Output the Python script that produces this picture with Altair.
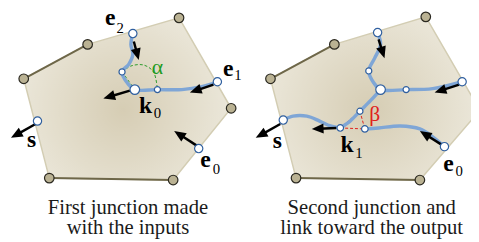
import math
import altair as alt
import pandas as pd

# ---------------- data (image pixel coordinates) ----------------
# polygon outlines
poly_left_x = [24, 89, 182, 235, 176, 50]
poly_left_y = [78, 43, 16, 108, 181, 179]
poly_right_x = [275, 340, 433, 488, 427, 301]
poly_right_y = [78, 43, 15, 110, 181, 179]

# dark edges (pairs)
dark_edges = [
    [(24, 78), (89, 43)], [(50, 179), (176, 181)],
    [(275, 78), (340, 43)], [(301, 179), (427, 181)],
]

# blue paths
blue_paths = [
    [(135, 32), (133, 43), (135, 53), (131, 63), (124, 71), (130, 83), (137, 89),
     (160, 89), (185, 89), (205, 86), (221, 81)],
    [(384, 31), (387, 43), (381, 57), (375, 70), (380, 82), (387, 89),
     (413, 89), (440, 88), (470, 81)],
    [(387, 89), (377, 100), (366, 111), (356, 121), (346, 128)],
    [(346, 128), (336, 126), (325, 121), (312, 116), (298, 116), (288, 120)],
    [(452, 147), (440, 137), (427, 129), (407, 126), (385, 128), (371, 129)],
]

# dashed angle markers
green_arc = [(124, 71), (133, 65), (146, 64), (156, 71), (160, 89)]
green_lines = [[(124, 71), (137, 89)], [(137, 89), (160, 89)]]
red_lines = [[(366, 111), (346, 128)], [(366, 111), (371, 129)], [(346, 128), (371, 129)]]

# arrows: start -> tip
arrows = [
    ((136, 40), (141, 59)), ((217, 84), (193, 92)), ((132, 90), (105, 98)),
    ((200, 146), (177, 131)), ((36, 124), (11, 138)),
    ((385, 38), (391, 57)), ((467, 84), (442, 92)), ((342, 128), (317, 129)),
    ((449, 145), (427, 131)), ((285, 124), (260, 138)),
]

# white nodes: x, y, diameter
node_x = [135, 124, 137, 160, 221, 202, 38, 384, 375, 387, 413, 470, 366, 346, 371, 452, 288]
node_y = [32, 71, 89, 89, 81, 149, 121, 31, 70, 89, 89, 81, 111, 128, 129, 147, 120]
node_d = [9.5, 7, 11, 7, 9.5, 9.5, 9.5, 9.5, 7, 11, 7, 9.5, 7, 7.5, 7.5, 9.5, 9.5]

# bold labels
lab_text = ["e", "e", "k", "s", "e", "s", "k", "e"]
lab_x = [112, 232, 148, 32, 209, 282, 353, 456]
lab_y = [23, 75, 113, 147, 168, 148, 152, 172]
sub_text = ["2", "1", "0", "0", "1", "0"]
sub_x = [122, 242, 160, 220, 365, 467]
sub_y = [31, 79, 118, 175, 159, 177]

greek_text = ["α", "β"]
greek_x = [160, 381]
greek_y = [73, 121]
greek_col = ["#1e9a1e", "#e0201c"]

cap_text = ["First junction made", "with the inputs",
            "Second junction and", "link toward the output"]
cap_x = [130, 130, 378, 378]
cap_y = [216, 236, 216, 236]

# ---------------- build tables ----------------
def rows_from_paths(paths):
    r = []
    for g, p in enumerate(paths):
        for i, (x, y) in enumerate(p):
            r.append({"g": g, "i": i, "x": x, "y": y})
    return pd.DataFrame(r)

poly_df = pd.DataFrame(
    [{"g": 0, "i": i, "x": x, "y": y} for i, (x, y) in enumerate(zip(poly_left_x + poly_left_x[:1], poly_left_y + poly_left_y[:1]))]
    + [{"g": 1, "i": i, "x": x, "y": y} for i, (x, y) in enumerate(zip(poly_right_x + poly_right_x[:1], poly_right_y + poly_right_y[:1]))]
)
vert_df = pd.DataFrame({"x": poly_left_x + poly_right_x, "y": poly_left_y + poly_right_y})

HEAD = 12.0
arrow_lines, arrow_heads = [], []
for g, ((sx, sy), (tx, ty)) in enumerate(arrows):
    dx, dy = tx - sx, ty - sy
    L = math.hypot(dx, dy)
    ux, uy = dx / L, dy / L
    arrow_lines += [{"g": g, "i": 0, "x": sx, "y": sy},
                    {"g": g, "i": 1, "x": tx - ux * HEAD * 0.6, "y": ty - uy * HEAD * 0.6}]
    ang = math.degrees(math.atan2(dx, -dy)) % 360
    arrow_heads.append({"x": tx - ux * HEAD / 2, "y": ty - uy * HEAD / 2, "ang": ang})
arrow_lines = pd.DataFrame(arrow_lines)
arrow_heads = pd.DataFrame(arrow_heads)

nodes = pd.DataFrame({"x": node_x, "y": node_y, "s": [math.pi * d * d / 4 for d in node_d]})

# plot area starts at page y = 16 (8px page margin + 8px top padding)
X = alt.Scale(domain=[8, 479], nice=False, zero=False)
Y = alt.Scale(domain=[16, 242], nice=False, zero=False, reverse=True)
ex = alt.X("x:Q", scale=X, axis=None)
ey = alt.Y("y:Q", scale=Y, axis=None)

grad = {"gradient": "radial", "x1": 0.48, "y1": 0.55, "r1": 0, "x2": 0.48, "y2": 0.55, "r2": 0.62,
        "stops": [{"offset": 0, "color": "#d6cdb4"}, {"offset": 1, "color": "#efece1"}]}

polys = alt.Chart(poly_df).mark_line(fill=grad, stroke="#d3cdb3", strokeWidth=1.5, clip=False).encode(
    x=ex, y=ey, detail="g:N", order="i:Q")

dark = alt.Chart(rows_from_paths(dark_edges)).mark_line(color="#6e6749", strokeWidth=2).encode(
    x=ex, y=ey, detail="g:N", order="i:Q")

garc = alt.Chart(rows_from_paths([green_arc])).mark_line(
    color="#2a9a2a", strokeWidth=1, strokeDash=[3, 2], interpolate="catmull-rom").encode(
    x=ex, y=ey, detail="g:N", order="i:Q")
glines = alt.Chart(rows_from_paths(green_lines)).mark_line(
    color="#2a9a2a", strokeWidth=1, strokeDash=[3, 2]).encode(x=ex, y=ey, detail="g:N", order="i:Q")
rlines = alt.Chart(rows_from_paths(red_lines)).mark_line(
    color="#e0201c", strokeWidth=1, strokeDash=[3, 2]).encode(x=ex, y=ey, detail="g:N", order="i:Q")

blue = alt.Chart(rows_from_paths(blue_paths)).mark_line(
    color="#7fa6d6", strokeWidth=3.5, interpolate="catmull-rom", strokeCap="round").encode(
    x=ex, y=ey, detail="g:N", order="i:Q")

alines = alt.Chart(arrow_lines).mark_line(color="#000000", strokeWidth=2.5).encode(
    x=ex, y=ey, detail="g:N", order="i:Q")
aheads = alt.Chart(arrow_heads).mark_point(
    shape="M0,-1 L0.85,1 L-0.85,1 Z", filled=True, color="#000000", opacity=1, size=144).encode(
    x=ex, y=ey, angle=alt.Angle("ang:Q", scale=None))

node_l = alt.Chart(nodes).mark_circle(color="#ffffff", stroke="#2f5f9f", strokeWidth=1.2, opacity=1).encode(
    x=ex, y=ey, size=alt.Size("s:Q", scale=None))

verts = alt.Chart(vert_df).mark_circle(color="#bab293", stroke="#2a2820", strokeWidth=1.2, opacity=1, size=95).encode(
    x=ex, y=ey)

labels = alt.Chart(pd.DataFrame({"t": lab_text, "x": lab_x, "y": lab_y})).mark_text(
    font="Liberation Serif", fontWeight="bold", fontSize=24, baseline="alphabetic", align="center",
    color="#000000").encode(x=ex, y=ey, text="t:N")
subs = alt.Chart(pd.DataFrame({"t": sub_text, "x": sub_x, "y": sub_y})).mark_text(
    font="Liberation Serif", fontSize=15, baseline="alphabetic", align="center",
    color="#000000").encode(x=ex, y=ey, text="t:N")
greek = alt.Chart(pd.DataFrame({"t": greek_text, "x": greek_x, "y": greek_y, "c": greek_col})).mark_text(
    font="Liberation Serif", fontSize=22, baseline="alphabetic", align="center").encode(
    x=ex, y=ey, text="t:N", color=alt.Color("c:N", scale=None))
caps = alt.Chart(pd.DataFrame({"t": cap_text, "x": cap_x, "y": cap_y})).mark_text(
    font="Liberation Serif", fontSize=21, baseline="alphabetic", align="center",
    color="#1a1a1a").encode(x=ex, y=ey, text="t:N")

chart = alt.layer(
    polys, dark, garc, glines, rlines, blue, alines, aheads, node_l, verts,
    labels, subs, greek, caps
).properties(
    width=471, height=226,
    padding={"top": 8, "left": 0, "right": 0, "bottom": 0},
    autosize=alt.AutoSizeParams(type="none"), background="#ffffff"
).configure_view(stroke=None)

chart.save("out.html", embed_options={"renderer": "svg", "actions": False})
